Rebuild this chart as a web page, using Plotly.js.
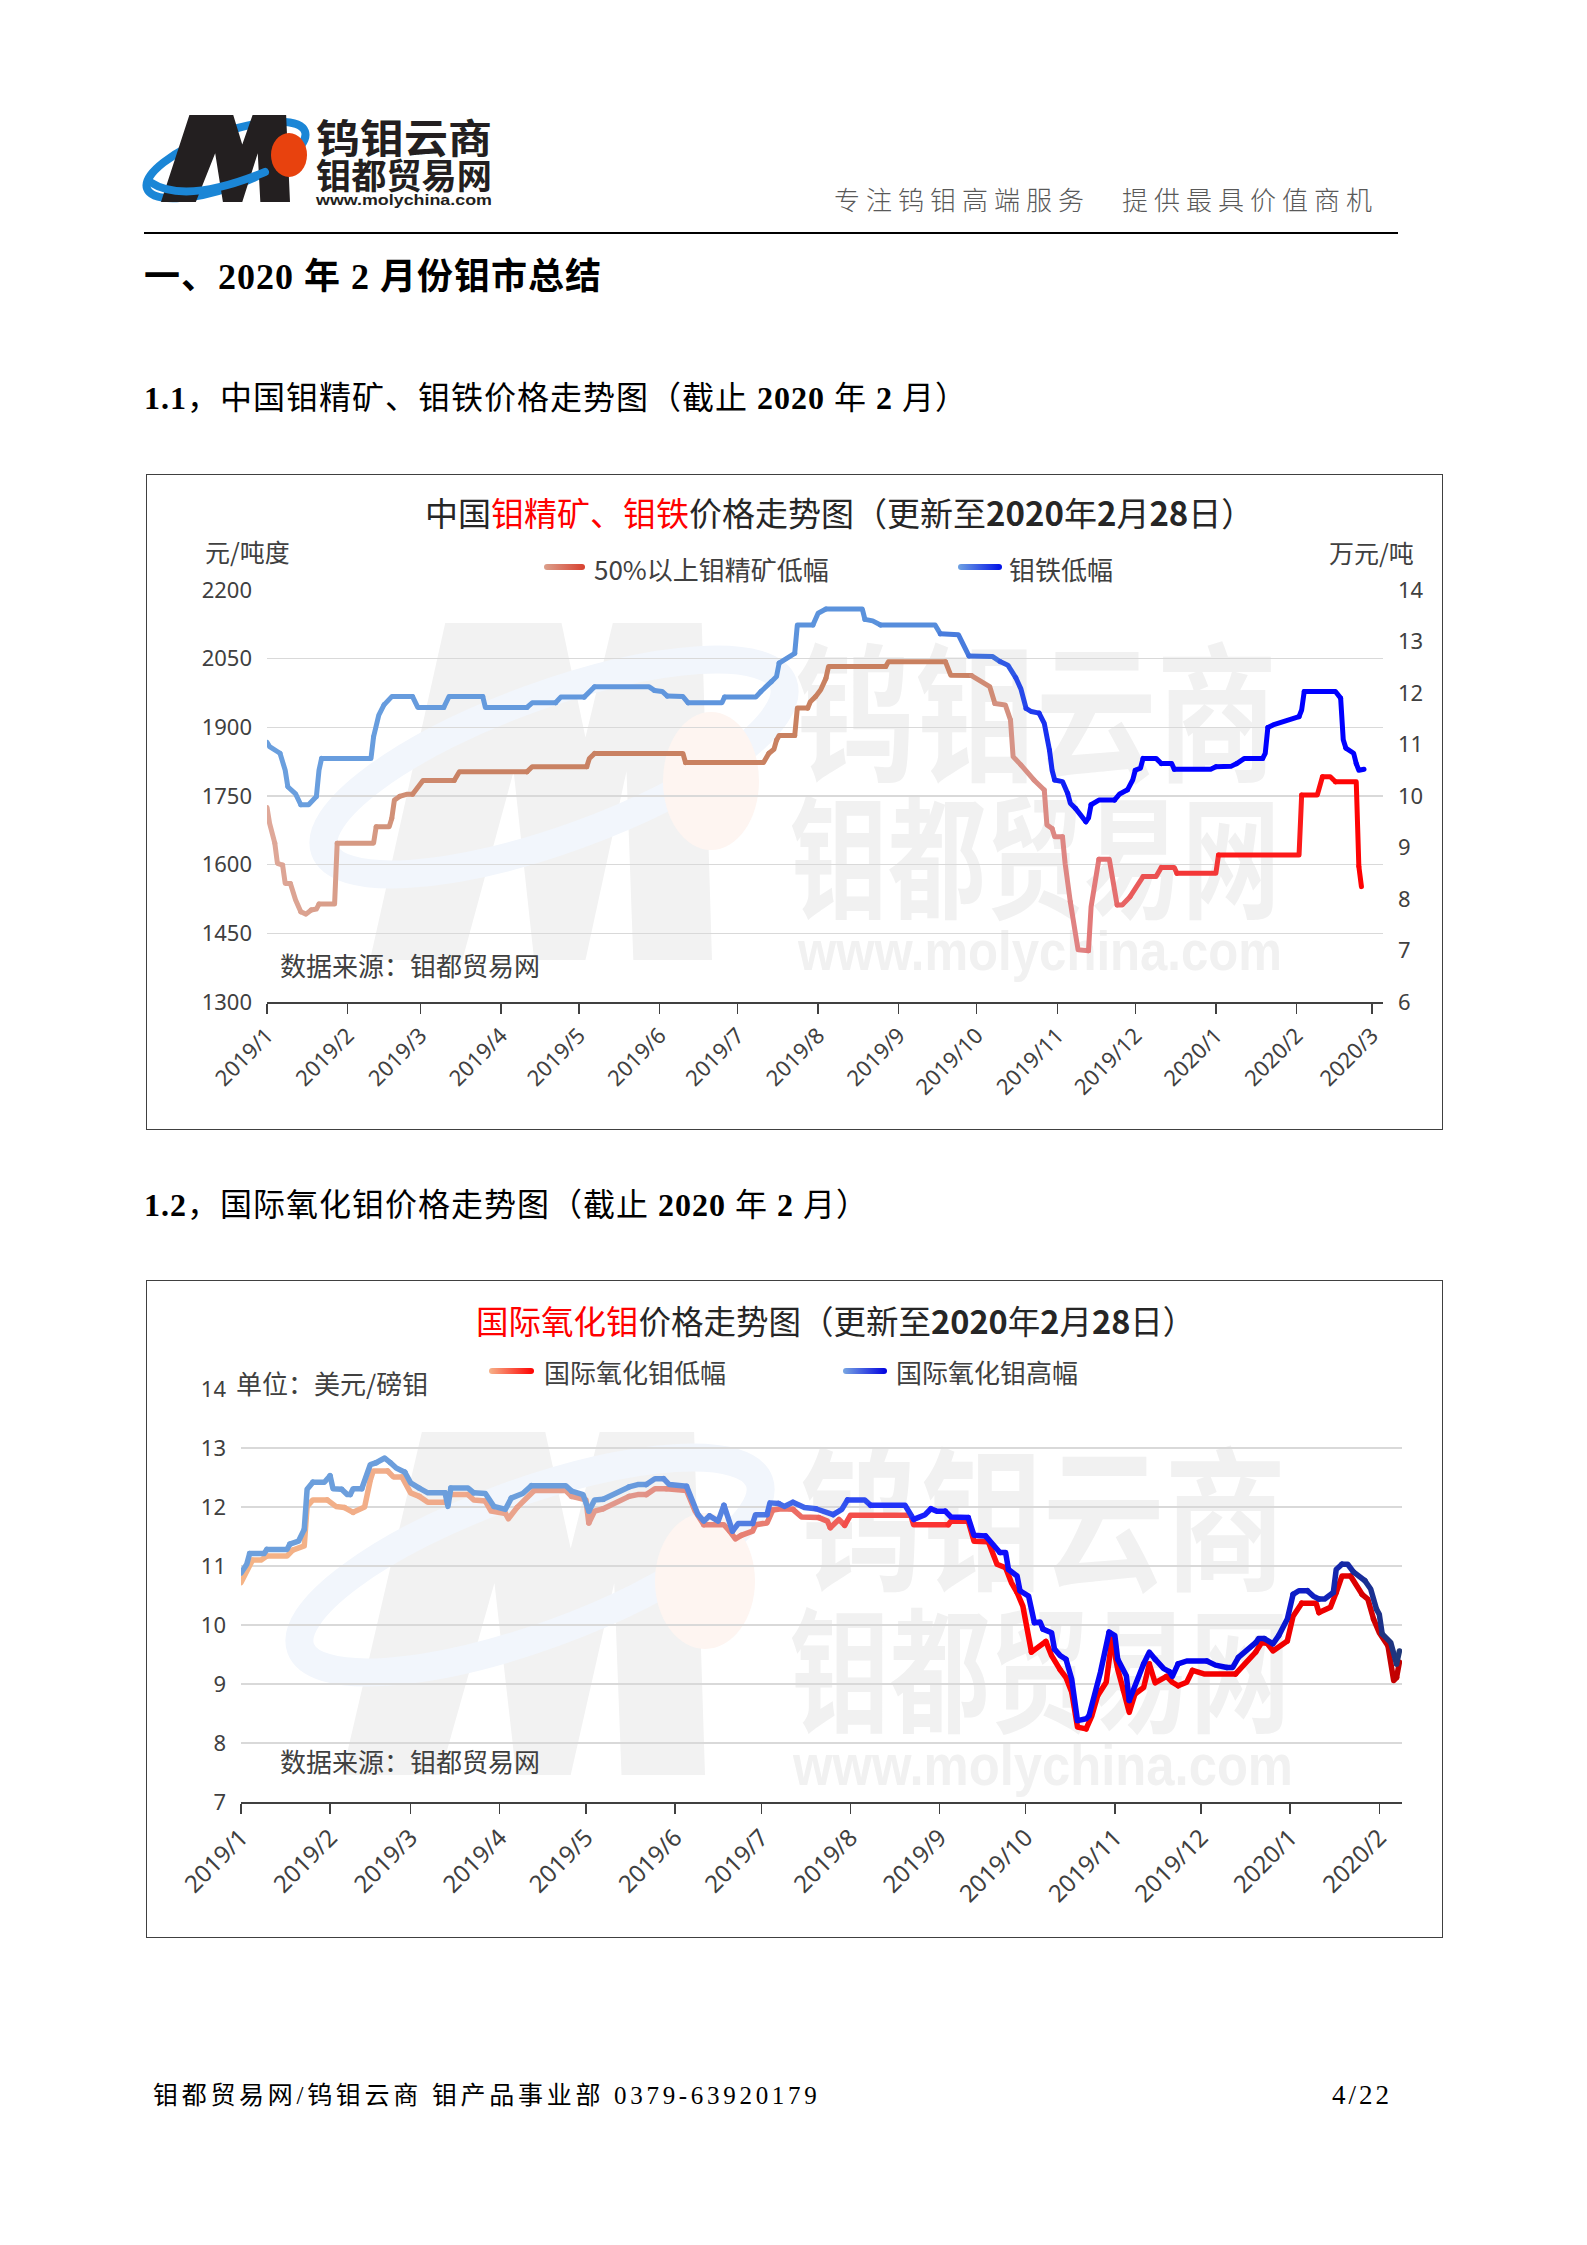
<!DOCTYPE html>
<html><head><meta charset="utf-8">
<script src="https://cdn.plot.ly/plotly-3.0.1.min.js"></script>
<style>
html,body{margin:0;padding:0;background:#fff;}
body{width:1587px;height:2245px;position:relative;overflow:hidden;font-family:"Liberation Serif","Noto Sans CJK SC",serif;color:#000;}
.abs{position:absolute;white-space:nowrap;line-height:1;}
.js-line{stroke-linejoin:round !important;stroke-linecap:round !important;}
.box{position:absolute;border:1.5px solid #404040;box-sizing:border-box;pointer-events:none;}
</style></head><body>

<script>
// ================= DATA =================
// Chart 1 : 50%以上钼精矿低幅 (元/吨度, left axis)
const concDates = [
 '2019-01-01','2019-01-02','2019-01-04','2019-01-05','2019-01-07','2019-01-08','2019-01-10','2019-01-12','2019-01-14','2019-01-16','2019-01-18','2019-01-20','2019-01-21','2019-01-27','2019-01-28',
 '2019-02-11','2019-02-12','2019-02-17','2019-02-18','2019-02-19','2019-02-21','2019-02-24','2019-02-26',
 '2019-03-02','2019-03-14','2019-03-16',
 '2019-04-11','2019-04-13',
 '2019-05-04','2019-05-05','2019-05-07',
 '2019-06-10','2019-06-11',
 '2019-07-11','2019-07-13','2019-07-15','2019-07-16','2019-07-17','2019-07-23','2019-07-24','2019-07-28','2019-07-29','2019-07-31',
 '2019-08-02','2019-08-04','2019-08-05','2019-08-27','2019-08-28',
 '2019-09-19','2019-09-21','2019-09-29',
 '2019-10-06','2019-10-08','2019-10-12','2019-10-14','2019-10-15','2019-10-18','2019-10-20','2019-10-23','2019-10-25','2019-10-27','2019-10-28','2019-10-30','2019-10-31',
 '2019-11-03','2019-11-04','2019-11-06','2019-11-09','2019-11-13','2019-11-14','2019-11-17','2019-11-21','2019-11-24','2019-11-26','2019-11-29',
 '2019-12-02','2019-12-04','2019-12-09','2019-12-11','2019-12-16','2019-12-17',
 '2020-01-01','2020-01-02',
 '2020-02-02','2020-02-03','2020-02-09','2020-02-11','2020-02-14','2020-02-16','2020-02-24','2020-02-25','2020-02-26'];
const concVals = [
 1725,1690,1647,1603,1599,1559,1559,1523,1497,1492,1501,1503,1514,1514,1647,
 1647,1683,1683,1701,1741,1749,1754,1754,
 1784,1784,1803,
 1803,1814,
 1814,1832,1843,
 1843,1823,
 1823,1843,1852,1872,1882,1882,1942,1942,1956,1967,
 1982,2007,2033,2033,2043,
 2043,2014,2013,
 1989,1952,1949,1916,1836,1818,1803,1785,1774,1763,1687,1679,1661,
 1661,1603,1519,1414,1412,1508,1612,1612,1512,1512,1530,
 1554,1574,1574,1594,1594,1581,
 1581,1621,
 1621,1752,1752,1792,1792,1781,1781,1596,1552];

// Chart 1 : 钼铁低幅 (万元/吨, right axis)
const feMoDates = [
 '2019-01-01','2019-01-02','2019-01-06','2019-01-08','2019-01-09','2019-01-12','2019-01-14','2019-01-17','2019-01-20','2019-01-21','2019-01-22',
 '2019-02-10','2019-02-11','2019-02-13','2019-02-15','2019-02-18','2019-02-26','2019-02-28',
 '2019-03-10','2019-03-12','2019-03-25','2019-03-26',
 '2019-04-11','2019-04-13','2019-04-22','2019-04-24',
 '2019-05-03','2019-05-05','2019-05-07','2019-05-28','2019-05-30',
 '2019-06-02','2019-06-04','2019-06-10','2019-06-12','2019-06-25','2019-06-26',
 '2019-07-08','2019-07-10','2019-07-12','2019-07-14','2019-07-16','2019-07-17','2019-07-20','2019-07-23','2019-07-24','2019-07-30',
 '2019-08-01','2019-08-04','2019-08-18','2019-08-19','2019-08-22','2019-08-25',
 '2019-09-15','2019-09-17','2019-09-24','2019-09-28',
 '2019-10-07','2019-10-10','2019-10-13','2019-10-16','2019-10-18','2019-10-20','2019-10-22','2019-10-25','2019-10-27','2019-10-29','2019-10-30','2019-10-31',
 '2019-11-03','2019-11-05','2019-11-06','2019-11-08','2019-11-10','2019-11-12','2019-11-13','2019-11-14','2019-11-17','2019-11-23','2019-11-25','2019-11-28','2019-11-30',
 '2019-12-01','2019-12-03','2019-12-04','2019-12-09','2019-12-11','2019-12-15','2019-12-16','2019-12-30',
 '2020-01-01','2020-01-07','2020-01-09','2020-01-12','2020-01-19','2020-01-20','2020-01-21','2020-01-23',
 '2020-02-02','2020-02-03','2020-02-04','2020-02-16','2020-02-18','2020-02-19','2020-02-20','2020-02-23','2020-02-24','2020-02-25','2020-02-27'];
const feMoVals = [
 11.04,10.96,10.83,10.50,10.18,10.04,9.83,9.83,9.99,10.50,10.73,
 10.73,11.15,11.57,11.77,11.93,11.93,11.72,
 11.72,11.93,11.93,11.72,
 11.72,11.81,11.81,11.92,
 11.92,12.03,12.12,12.12,12.05,
 12.03,11.94,11.93,11.81,11.81,11.92,
 11.92,12.03,12.12,12.22,12.32,12.58,12.67,12.77,13.32,13.32,
 13.55,13.63,13.63,13.43,13.40,13.32,
 13.32,13.15,13.13,12.72,
 12.71,12.61,12.54,12.30,12.08,11.70,11.64,11.61,11.41,10.89,10.50,10.31,
 10.28,10.05,9.86,9.76,9.63,9.50,9.57,9.83,9.92,9.92,10.04,10.12,10.31,
 10.50,10.54,10.73,10.73,10.63,10.63,10.52,10.52,
 10.57,10.58,10.63,10.73,10.73,10.83,11.33,11.38,
 11.54,11.67,12.03,12.03,11.90,11.09,10.93,10.83,10.63,10.50,10.52];

// Chart 2 : 国际氧化钼低幅 (美元/磅钼)
const oxLowDates = [
 '2019-01-01','2019-01-03','2019-01-05','2019-01-08','2019-01-10','2019-01-17','2019-01-19','2019-01-23','2019-01-24','2019-01-26','2019-01-31',
 '2019-02-03','2019-02-06','2019-02-07','2019-02-09','2019-02-13','2019-02-15','2019-02-16','2019-02-21','2019-02-23','2019-02-26',
 '2019-03-01','2019-03-04','2019-03-07','2019-03-13','2019-03-15','2019-03-21','2019-03-23','2019-03-27','2019-03-29',
 '2019-04-03','2019-04-04','2019-04-07','2019-04-11','2019-04-13','2019-04-24','2019-04-26',
 '2019-05-01','2019-05-02','2019-05-04','2019-05-07','2019-05-12','2019-05-16','2019-05-19','2019-05-22','2019-05-25','2019-05-29','2019-05-31',
 '2019-06-05','2019-06-08','2019-06-11','2019-06-18','2019-06-20','2019-06-22','2019-06-24','2019-06-28','2019-06-29',
 '2019-07-03','2019-07-05','2019-07-08','2019-07-12','2019-07-15','2019-07-21','2019-07-24','2019-07-25','2019-07-28','2019-07-30',
 '2019-08-01','2019-08-22','2019-08-23',
 '2019-09-04','2019-09-05','2019-09-11','2019-09-13','2019-09-18','2019-09-21','2019-09-24','2019-09-26','2019-09-28','2019-09-30',
 '2019-10-03','2019-10-05','2019-10-08','2019-10-10','2019-10-13','2019-10-15','2019-10-17','2019-10-19','2019-10-22','2019-10-24','2019-10-26','2019-10-29','2019-10-31',
 '2019-11-02','2019-11-04','2019-11-06','2019-11-08','2019-11-11','2019-11-13','2019-11-15','2019-11-19','2019-11-21','2019-11-23','2019-11-26','2019-11-28',
 '2019-12-02','2019-12-13','2019-12-16','2019-12-20','2019-12-22','2019-12-24','2019-12-26','2019-12-31',
 '2020-01-02','2020-01-05','2020-01-10','2020-01-11','2020-01-15','2020-01-17','2020-01-19','2020-01-22','2020-01-24','2020-01-26','2020-01-28','2020-01-30',
 '2020-02-01','2020-02-04','2020-02-06','2020-02-07','2020-02-08'];
const oxLowVals = [
 10.72,10.89,11.10,11.10,11.17,11.17,11.27,11.34,12.01,12.12,12.12,
 12.01,11.99,11.96,11.91,12.00,12.46,12.61,12.61,12.51,12.51,
 12.24,12.18,12.08,12.08,12.21,12.21,12.12,12.10,11.93,
 11.89,11.80,11.99,12.18,12.28,12.28,12.18,
 12.12,11.73,11.93,11.97,12.08,12.18,12.21,12.21,12.31,12.31,12.30,
 12.28,11.93,11.70,11.70,11.59,11.46,11.52,11.59,11.70,
 11.73,11.95,11.97,11.96,11.83,11.82,11.76,11.65,11.79,11.69,
 11.86,11.86,11.70,
 11.70,11.76,11.76,11.42,11.41,11.03,10.97,10.72,10.55,10.32,
 9.54,9.62,9.72,9.48,9.24,9.11,8.86,8.27,8.24,8.46,8.80,9.03,9.76,
 9.25,8.89,8.52,8.83,8.94,9.34,9.02,9.13,9.03,8.97,9.03,9.23,
 9.17,9.17,9.34,9.54,9.70,9.69,9.56,9.73,
 10.15,10.37,10.37,10.21,10.30,10.55,10.83,10.83,10.69,10.52,10.44,10.10,
 9.87,9.65,9.06,9.11,9.37];

// Chart 2 : 国际氧化钼高幅 (美元/磅钼)
const oxHighDates = [
 '2019-01-01','2019-01-03','2019-01-04','2019-01-09','2019-01-10','2019-01-17','2019-01-18','2019-01-21','2019-01-23','2019-01-24','2019-01-26','2019-01-30',
 '2019-02-01','2019-02-02','2019-02-05','2019-02-07','2019-02-08','2019-02-09','2019-02-12','2019-02-15','2019-02-17','2019-02-20','2019-02-22','2019-02-24','2019-02-27',
 '2019-03-01','2019-03-04','2019-03-07','2019-03-13','2019-03-14','2019-03-15','2019-03-21','2019-03-23','2019-03-27','2019-03-30',
 '2019-04-03','2019-04-05','2019-04-09','2019-04-12','2019-04-24','2019-04-26','2019-04-30',
 '2019-05-02','2019-05-04','2019-05-07','2019-05-12','2019-05-16','2019-05-19','2019-05-22','2019-05-25','2019-05-28','2019-05-30',
 '2019-06-05','2019-06-08','2019-06-09','2019-06-11','2019-06-13','2019-06-16','2019-06-18','2019-06-20','2019-06-21','2019-06-23','2019-06-28','2019-06-29',
 '2019-07-03','2019-07-04','2019-07-07','2019-07-09','2019-07-12','2019-07-16','2019-07-20','2019-07-23','2019-07-26','2019-07-29','2019-07-31',
 '2019-08-06','2019-08-08','2019-08-20','2019-08-23','2019-08-27','2019-08-29','2019-08-31',
 '2019-09-03','2019-09-05','2019-09-11','2019-09-13','2019-09-17','2019-09-19','2019-09-22','2019-09-24','2019-09-25','2019-09-28','2019-09-29',
 '2019-10-02','2019-10-04','2019-10-06','2019-10-07','2019-10-10','2019-10-11','2019-10-13','2019-10-15','2019-10-17','2019-10-19','2019-10-22','2019-10-23','2019-10-27','2019-10-30',
 '2019-11-01','2019-11-02','2019-11-05','2019-11-06','2019-11-09','2019-11-11','2019-11-13','2019-11-15','2019-11-18','2019-11-20','2019-11-21','2019-11-23','2019-11-26',
 '2019-12-03','2019-12-06','2019-12-10','2019-12-12','2019-12-14','2019-12-16','2019-12-20','2019-12-21','2019-12-23','2019-12-26','2019-12-28','2019-12-31',
 '2020-01-02','2020-01-04','2020-01-07','2020-01-09','2020-01-11','2020-01-13','2020-01-16','2020-01-17','2020-01-19','2020-01-21','2020-01-23','2020-01-25','2020-01-27','2020-01-29','2020-01-31',
 '2020-02-01','2020-02-02','2020-02-05','2020-02-07','2020-02-08'];
const oxHighVals = [
 10.88,11.03,11.21,11.21,11.28,11.28,11.37,11.42,11.62,12.30,12.42,12.42,
 12.53,12.31,12.30,12.21,12.21,12.31,12.31,12.72,12.75,12.83,12.75,12.66,12.59,
 12.41,12.32,12.24,12.24,12.01,12.32,12.32,12.24,12.23,12.01,
 11.96,12.15,12.23,12.36,12.36,12.27,12.21,
 11.93,12.12,12.13,12.24,12.34,12.38,12.38,12.48,12.48,12.38,
 12.35,12.01,11.87,11.76,11.85,11.76,12.03,11.73,11.59,11.72,11.72,11.87,
 11.87,12.07,12.06,12.01,12.08,11.99,11.97,11.93,11.87,11.96,12.12,
 12.12,12.03,12.03,11.79,11.87,11.97,11.93,
 11.93,11.83,11.82,11.52,11.51,11.39,11.23,11.23,10.94,10.83,10.58,
 10.49,10.04,10.05,9.93,9.87,9.59,9.48,9.42,9.08,8.38,8.41,8.46,9.20,9.88,
 9.82,9.42,9.14,8.72,9.06,9.34,9.54,9.42,9.26,9.21,9.13,9.34,9.39,
 9.39,9.32,9.28,9.28,9.45,9.54,9.70,9.77,9.77,9.68,9.82,10.10,
 10.52,10.58,10.58,10.49,10.44,10.44,10.55,10.94,11.03,11.03,10.90,10.83,10.75,10.61,10.27,
 10.18,9.85,9.70,9.34,9.56];

// Tick labels
const c1TickVals = ['2019-01-01','2019-02-01','2019-03-01','2019-04-01','2019-05-01','2019-06-01','2019-07-01','2019-08-01','2019-09-01','2019-10-01','2019-11-01','2019-12-01','2020-01-01','2020-02-01','2020-03-01'];
const c1TickText = ['2019/1','2019/2','2019/3','2019/4','2019/5','2019/6','2019/7','2019/8','2019/9','2019/10','2019/11','2019/12','2020/1','2020/2','2020/3'];
const c2TickVals = ['2019-01-01','2019-02-01','2019-03-01','2019-04-01','2019-05-01','2019-06-01','2019-07-01','2019-08-01','2019-09-01','2019-10-01','2019-11-01','2019-12-01','2020-01-01','2020-02-01'];
const c2TickText = ['2019/1','2019/2','2019/3','2019/4','2019/5','2019/6','2019/7','2019/8','2019/9','2019/10','2019/11','2019/12','2020/1','2020/2'];
</script>

<!-- background drawing: logo, watermarks, legend swatches -->
<svg class="abs" style="left:0;top:0" width="1587" height="2245" xmlns="http://www.w3.org/2000/svg">
 <defs>
  <polygon id="mShape" points="0,100 22,0 56,0 63,34 71,0 97,0 100,100 77,100 75,44 63,100 48,100 42,44 27,100"/>
  <linearGradient id="lgR1" x1="0" x2="1" y1="0" y2="0"><stop offset="0" stop-color="#dba08c"/><stop offset="1" stop-color="#d8402f"/></linearGradient>
  <linearGradient id="lgB1" x1="0" x2="1" y1="0" y2="0"><stop offset="0" stop-color="#6fa2e2"/><stop offset="1" stop-color="#0010e8"/></linearGradient>
  <linearGradient id="lgR2" x1="0" x2="1" y1="0" y2="0"><stop offset="0" stop-color="#f6b38a"/><stop offset="1" stop-color="#ff0000"/></linearGradient>
  <linearGradient id="lgB2" x1="0" x2="1" y1="0" y2="0"><stop offset="0" stop-color="#79a7e2"/><stop offset="1" stop-color="#0000e0"/></linearGradient>
 </defs>

 <!-- header logo -->
 <ellipse cx="226" cy="160" rx="84" ry="27" transform="rotate(-20 226 160)" fill="none" stroke="#1b86d6" stroke-width="8"/>
 <use href="#mShape" transform="translate(161,115) scale(1.29,0.87)" fill="#231f20"/>
 <path d="M 150 182 Q 185 205 265 172" fill="none" stroke="#1b86d6" stroke-width="8" stroke-linecap="round"/>
 <ellipse cx="289" cy="155" rx="18" ry="22" fill="#e8420e"/>
 <text x="316" y="153" font-family="Noto Sans CJK SC" font-weight="bold" font-size="40" textLength="176" lengthAdjust="spacingAndGlyphs" fill="#231f20">钨钼云商</text>
 <text x="316" y="189" font-family="Noto Sans CJK SC" font-weight="bold" font-size="35" textLength="176" lengthAdjust="spacingAndGlyphs" fill="#231f20">钼都贸易网</text>
 <text x="316" y="205" font-family="Liberation Sans" font-weight="bold" font-size="14" textLength="176" lengthAdjust="spacingAndGlyphs" fill="#231f20">www.molychina.com</text>

 <!-- chart 1 watermark -->
 <use href="#mShape" transform="translate(370,623) scale(3.42,3.37)" fill="#f2f2f2"/>
 <ellipse cx="554" cy="767" rx="244" ry="72" transform="rotate(-20 554 767)" fill="none" stroke="#f2f6fc" stroke-width="28"/>
 <ellipse cx="711" cy="781" rx="48" ry="69" fill="#fef5f1"/>
 <text x="795" y="770" font-family="Noto Sans CJK SC" font-weight="bold" font-size="150" textLength="482" lengthAdjust="spacingAndGlyphs" fill="#f1f1f1">钨钼云商</text>
 <text x="790" y="908" font-family="Noto Sans CJK SC" font-weight="bold" font-size="133" textLength="490" lengthAdjust="spacingAndGlyphs" fill="#f1f1f1">钼都贸易网</text>
 <text x="798" y="970" font-family="Liberation Sans" font-weight="bold" font-size="56" textLength="484" lengthAdjust="spacingAndGlyphs" fill="#f1f1f1">www.molychina.com</text>

 <!-- chart 2 watermark -->
 <use href="#mShape" transform="translate(342,1432) scale(3.63,3.43)" fill="#f2f2f2"/>
 <ellipse cx="530" cy="1565" rx="244" ry="72" transform="rotate(-20 530 1565)" fill="none" stroke="#f2f6fc" stroke-width="28"/>
 <ellipse cx="705" cy="1581" rx="50" ry="68" fill="#fef5f1"/>
 <text x="800" y="1578" font-family="Noto Sans CJK SC" font-weight="bold" font-size="155" textLength="486" lengthAdjust="spacingAndGlyphs" fill="#f1f1f1">钨钼云商</text>
 <text x="790" y="1722" font-family="Noto Sans CJK SC" font-weight="bold" font-size="135" textLength="500" lengthAdjust="spacingAndGlyphs" fill="#f1f1f1">钼都贸易网</text>
 <text x="793" y="1785" font-family="Liberation Sans" font-weight="bold" font-size="58" textLength="500" lengthAdjust="spacingAndGlyphs" fill="#f1f1f1">www.molychina.com</text>

 <!-- legend swatches -->
 <rect x="544" y="564" width="41" height="6" rx="3" fill="url(#lgR1)"/>
 <rect x="958" y="564" width="44" height="6" rx="3" fill="url(#lgB1)"/>
 <rect x="489" y="1368" width="45" height="6" rx="3" fill="url(#lgR2)"/>
 <rect x="843" y="1368" width="44" height="6" rx="3" fill="url(#lgB2)"/>

 <!-- header rule -->
 <rect x="144" y="232" width="1254" height="2" fill="#000"/>
</svg>

<div class="abs" style="left:834px;top:186px;font-size:26px;letter-spacing:6px;color:#595959;font-family:'Noto Sans CJK SC';font-weight:300;">专注钨钼高端服务　提供最具价值商机</div>
<div class="abs" style="left:144px;top:259px;font-size:36px;font-weight:bold;letter-spacing:1px;">一、2020 年 2 月份钼市总结</div>
<div class="abs" style="left:144px;top:382px;font-size:32px;letter-spacing:1px;"><b>1.1</b>，中国钼精矿、钼铁价格走势图（截止 <b>2020</b> 年 <b>2</b> 月）</div>
<div class="abs" style="left:144px;top:1189px;font-size:32px;letter-spacing:1px;"><b>1.2</b>，国际氧化钼价格走势图（截止 <b>2020</b> 年 <b>2</b> 月）</div>
<div class="abs" style="left:153px;top:2083px;font-size:25px;letter-spacing:3.7px;">钼都贸易网/钨钼云商&nbsp;钼产品事业部 0379-63920179</div>
<div class="abs" style="right:195px;top:2082px;font-size:27px;letter-spacing:3px;">4/22</div>

<div id="chart1" class="abs" style="left:146px;top:474px;width:1297px;height:656px;"></div>
<div class="box" style="left:146px;top:474px;width:1297px;height:656px;"></div>
<div id="chart2" class="abs" style="left:146px;top:1280px;width:1297px;height:658px;"></div>
<div class="box" style="left:146px;top:1280px;width:1297px;height:658px;"></div>

<script>
// ---------- styling helpers (colour gradients along the lines) ----------
const concGrad = [['2019-01-01','#dfa99a'],['2019-02-10','#d4967f'],['2019-03-15','#c98264'],['2019-09-20','#c9805f'],['2019-10-15','#d69486'],['2019-11-10','#e08282'],['2019-12-10','#ec4c4c'],['2020-01-10','#fb1f1f'],['2020-02-27','#ff0000']];
const feMoGrad = [['2019-01-01','#6a9fde'],['2019-09-01','#5a91dc'],['2019-10-05','#3f6fdd'],['2019-10-25','#1a35f0'],['2019-11-15','#0000ff'],['2020-02-27','#0000ff']];
const lowGrad  = [['2019-01-01','#f5b486'],['2019-03-15','#efa98a'],['2019-05-15','#e0978c'],['2019-07-01','#e87e72'],['2019-08-01','#f05a55'],['2019-09-01','#fb2e2e'],['2019-10-01','#ff0000'],['2020-01-15','#ee0000'],['2020-02-08','#c00000']];
const highGrad = [['2019-01-01','#6c9fdc'],['2019-05-15','#6b9ddc'],['2019-07-01','#4d78e2'],['2019-08-01','#2f4ef0'],['2019-09-01','#1212ff'],['2019-12-01','#0000f0'],['2020-01-10','#1020c0'],['2020-02-08','#203878']];

function hex2rgb(h){return [1,3,5].map(i=>parseInt(h.slice(i,i+2),16));}
function colorAt(stops,t){
  const s=stops.map(([d,c])=>[Date.parse(d),hex2rgb(c)]);
  if(t<=s[0][0]) return 'rgb('+s[0][1].join(',')+')';
  for(let i=0;i<s.length-1;i++){
    if(t<=s[i+1][0]){
      const f=(t-s[i][0])/(s[i+1][0]-s[i][0]);
      const c=s[i][1].map((v,k)=>Math.round(v+(s[i+1][1][k]-v)*f));
      return 'rgb('+c.join(',')+')';
    }
  }
  return 'rgb('+s[s.length-1][1].join(',')+')';
}
function gradientTraces(xs,ys,stops,width,yaxis){
  const out=[];const CH=2;
  for(let i=0;i<xs.length-1;i+=CH){
    const j=Math.min(i+CH,xs.length-1);
    const mid=(Date.parse(xs[i])+Date.parse(xs[j]))/2;
    out.push({type:'scatter',mode:'lines',x:xs.slice(i,j+1),y:ys.slice(i,j+1),
      line:{color:colorAt(stops,mid),width:width},yaxis:yaxis,hoverinfo:'skip',showlegend:false});
  }
  return out;
}
function ann(P,X,Y,text,size,xa,extra){
  return Object.assign({xref:'paper',yref:'paper',x:(X-P.l)/(P.r-P.l),y:(P.b-Y)/(P.b-P.t),
    text:text,showarrow:false,xanchor:xa||'left',yanchor:'middle',
    font:{family:'Noto Sans CJK SC',size:size,color:'#404040'}},extra||{});
}

const tickFont={family:'Noto Sans, Noto Sans CJK SC',size:22,color:'#404040'};
const cfg={displayModeBar:false,staticPlot:true};

// ---------- chart 1 ----------
const P1={l:267,r:1383,t:590,b:1002};
const t1=[].concat(gradientTraces(concDates,concVals,concGrad,5,'y'),gradientTraces(feMoDates,feMoVals,feMoGrad,5,'y2'));
const L1={
  width:1297,height:656,margin:{l:121,r:60,t:116,b:128,pad:0,autoexpand:false},
  paper_bgcolor:'rgba(0,0,0,0)',plot_bgcolor:'rgba(0,0,0,0)',showlegend:false,
  xaxis:{type:'date',range:['2019-01-01','2020-03-05 07:00'],tickmode:'array',tickvals:c1TickVals,ticktext:c1TickText,
    tickangle:-45,ticks:'outside',ticklen:10,tickwidth:1.5,tickcolor:'#404040',showline:true,linecolor:'#404040',linewidth:2,
    showgrid:false,zeroline:false,tickfont:tickFont},
  yaxis:{range:[1300,2200],tickmode:'linear',tick0:1300,dtick:150,showgrid:true,gridcolor:'#d9d9d9',gridwidth:1.5,
    zeroline:false,showline:false,ticks:'',tickfont:tickFont,ticklabelstandoff:14},
  yaxis2:{overlaying:'y',side:'right',range:[6,14],tickmode:'linear',tick0:6,dtick:1,showgrid:false,zeroline:false,
    showline:false,ticks:'',tickfont:tickFont,ticklabelstandoff:14},
  annotations:[
    ann(P1,839,512,'中国<span style="color:#ff0000">钼精矿、钼铁</span>价格走势图（更新至<b>2020</b>年<b>2</b>月<b>28</b>日）',33,'center',{font:{family:'Noto Sans CJK SC',size:33,color:'#262626'}}),
    ann(P1,203,551,'元/吨度',25,'left'),
    ann(P1,1416,552,'万元/吨',25,'right'),
    ann(P1,592,568,'50%以上钼精矿低幅',26,'left'),
    ann(P1,1007,568,'钼铁低幅',26,'left'),
    ann(P1,278,964,'数据来源：钼都贸易网',26,'left')
  ]
};
Plotly.newPlot('chart1',t1,L1,cfg);

// ---------- chart 2 ----------
const P2={l:241,r:1402,t:1389,b:1802};
const t2=[].concat(gradientTraces(oxLowDates,oxLowVals,lowGrad,5.5,'y'),gradientTraces(oxHighDates,oxHighVals,highGrad,5.5,'y'));
const L2={
  width:1297,height:658,margin:{l:95,r:41,t:109,b:136,pad:0,autoexpand:false},
  paper_bgcolor:'rgba(0,0,0,0)',plot_bgcolor:'rgba(0,0,0,0)',showlegend:false,
  xaxis:{type:'date',range:['2019-01-01','2020-02-08 21:30'],tickmode:'array',tickvals:c2TickVals,ticktext:c2TickText,
    tickangle:-45,ticks:'outside',ticklen:10,tickwidth:1.5,tickcolor:'#404040',showline:true,linecolor:'#404040',linewidth:2,
    showgrid:false,zeroline:false,tickfont:Object.assign({},tickFont,{size:24})},
  yaxis:{range:[7,14],tickmode:'linear',tick0:7,dtick:1,showgrid:true,gridcolor:'#d9d9d9',gridwidth:1.5,
    zeroline:false,showline:false,ticks:'',tickfont:tickFont,ticklabelstandoff:14},
  annotations:[
    ann(P2,835,1319,'<span style="color:#ff0000">国际氧化钼</span>价格走势图（更新至<b>2020</b>年<b>2</b>月<b>28</b>日）',32.5,'center',{font:{family:'Noto Sans CJK SC',size:32.5,color:'#262626'}}),
    ann(P2,234,1382,'单位：美元/磅钼',26,'left'),
    ann(P2,542,1371,'国际氧化钼低幅',26,'left'),
    ann(P2,894,1371,'国际氧化钼高幅',26,'left'),
    ann(P2,278,1760,'数据来源：钼都贸易网',26,'left')
  ]
};
Plotly.newPlot('chart2',t2,L2,cfg);
</script>
</body></html>
